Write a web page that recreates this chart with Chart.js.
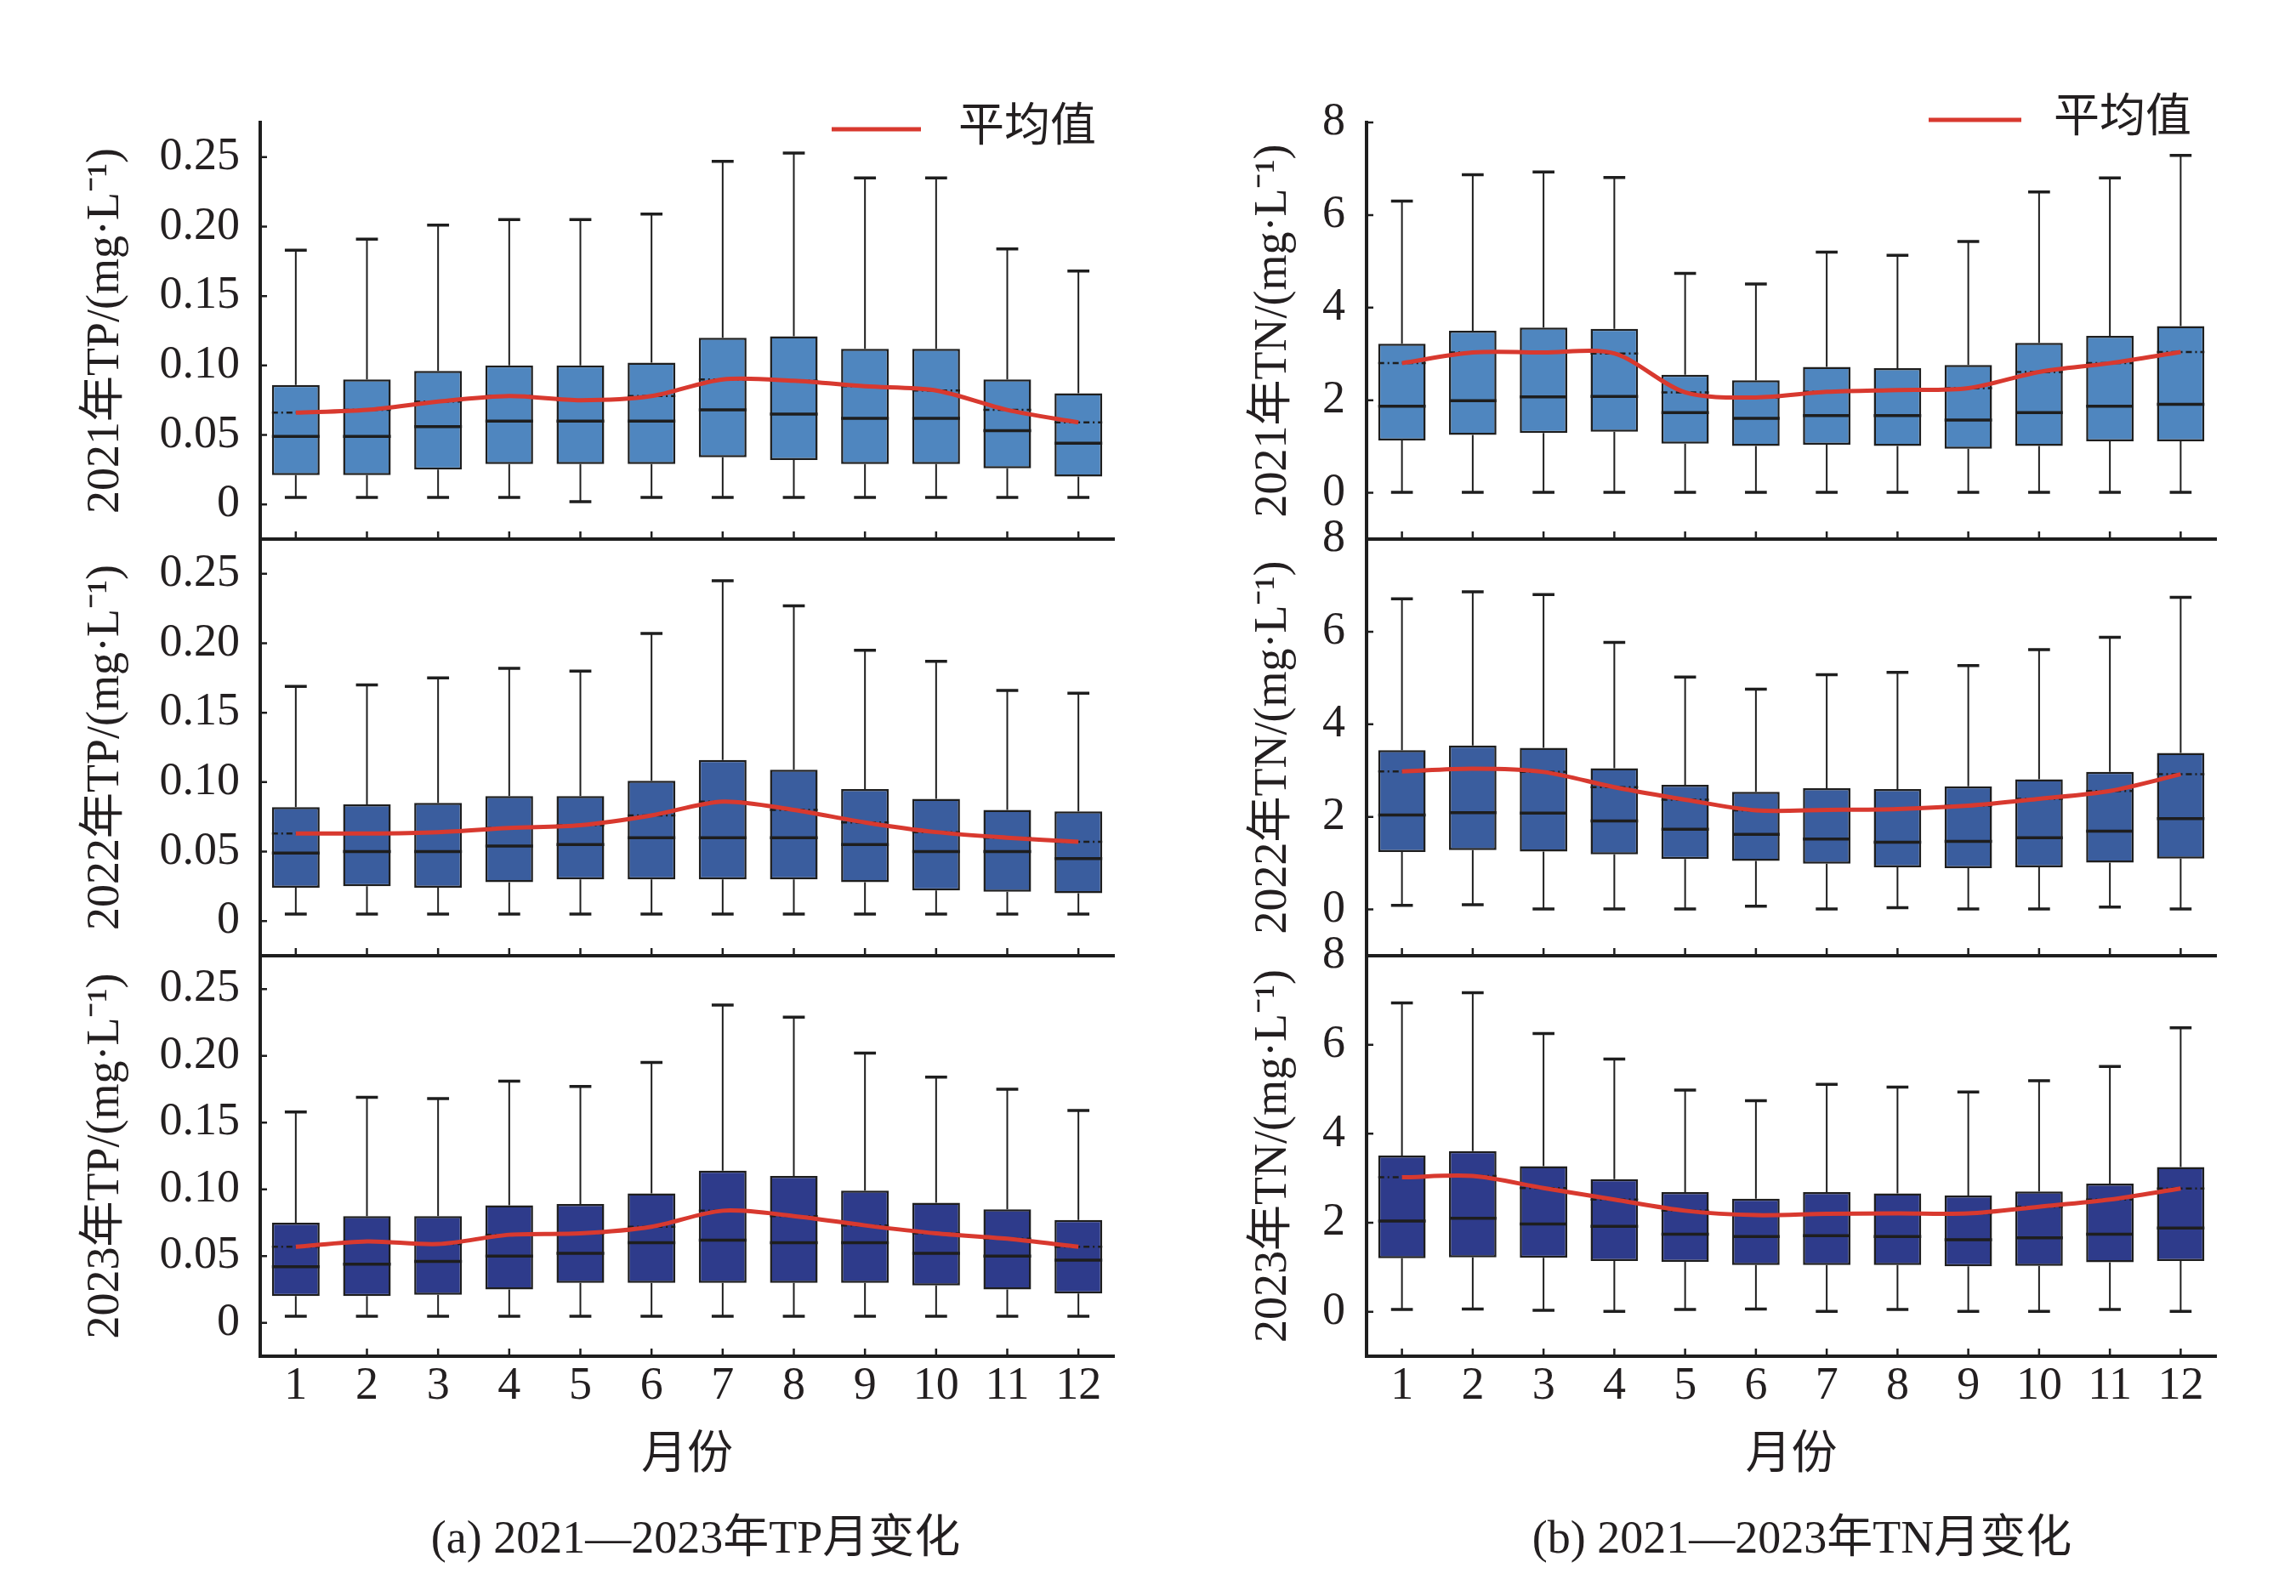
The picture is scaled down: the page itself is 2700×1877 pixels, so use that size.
<!DOCTYPE html>
<html>
<head>
<meta charset="utf-8">
<script src="https://cdn.jsdelivr.net/npm/chart.js@4.4.1/dist/chart.umd.min.js"></script>
<style>
html, body { margin: 0; padding: 0; background: #fff; }
body { width: 2700px; height: 1877px; position: relative; overflow: hidden; }
canvas { position: absolute; }
.cap { position: absolute; font: 54px "Liberation Serif", "Noto Sans CJK SC", serif; color: #231f20;
       white-space: nowrap; transform: translate(-50%, -50%); }
</style>
</head>
<body>
<canvas id="tp2021"></canvas>
<canvas id="tp2022"></canvas>
<canvas id="tp2023"></canvas>
<canvas id="tn2021"></canvas>
<canvas id="tn2022"></canvas>
<canvas id="tn2023"></canvas>
<div class="cap" style="left:818px;top:1802px">(a) 2021—2023年TP月变化</div>
<div class="cap" style="left:2119px;top:1802px">(b) 2021—2023年TN月变化</div>
<script>
// months and axis ticks
const months = ['1', '2', '3', '4', '5', '6', '7', '8', '9', '10', '11', '12'];
const tpTicks = [0, 0.05, 0.10, 0.15, 0.20, 0.25];
const tpTickLabels = ['0', '0.05', '0.10', '0.15', '0.20', '0.25'];
const tnTicks = [0, 2, 4, 6, 8];
const tnTickLabels = ['0', '2', '4', '6', '8'];

// TP 2021
const tp2021Min = [0.005, 0.005, 0.005, 0.005, 0.002, 0.005, 0.005, 0.005, 0.005, 0.005, 0.005, 0.005];
const tp2021Q1 = [0.021, 0.021, 0.025, 0.029, 0.029, 0.029, 0.034, 0.032, 0.029, 0.029, 0.026, 0.020];
const tp2021Med = [0.049, 0.049, 0.056, 0.060, 0.060, 0.060, 0.068, 0.065, 0.062, 0.062, 0.053, 0.044];
const tp2021Q3 = [0.086, 0.090, 0.096, 0.100, 0.100, 0.102, 0.120, 0.121, 0.112, 0.112, 0.090, 0.080];
const tp2021Max = [0.183, 0.191, 0.201, 0.205, 0.205, 0.209, 0.247, 0.253, 0.235, 0.235, 0.184, 0.168];
const tp2021Mean = [0.066, 0.068, 0.074, 0.078, 0.075, 0.078, 0.090, 0.089, 0.085, 0.082, 0.068, 0.059];

// TP 2022
const tp2022Min = [0.005, 0.005, 0.005, 0.005, 0.005, 0.005, 0.005, 0.005, 0.005, 0.005, 0.005, 0.005];
const tp2022Q1 = [0.024, 0.025, 0.024, 0.028, 0.030, 0.030, 0.030, 0.030, 0.028, 0.022, 0.021, 0.020];
const tp2022Med = [0.049, 0.050, 0.050, 0.054, 0.055, 0.060, 0.060, 0.060, 0.055, 0.050, 0.050, 0.045];
const tp2022Q3 = [0.082, 0.084, 0.085, 0.090, 0.090, 0.101, 0.116, 0.109, 0.095, 0.088, 0.080, 0.079];
const tp2022Max = [0.169, 0.170, 0.175, 0.182, 0.180, 0.207, 0.245, 0.227, 0.195, 0.187, 0.166, 0.164];
const tp2022Mean = [0.063, 0.063, 0.064, 0.067, 0.069, 0.076, 0.086, 0.080, 0.071, 0.064, 0.060, 0.057];

// TP 2023
const tp2023Min = [0.005, 0.005, 0.005, 0.005, 0.005, 0.005, 0.005, 0.005, 0.005, 0.005, 0.005, 0.005];
const tp2023Q1 = [0.020, 0.020, 0.021, 0.025, 0.030, 0.030, 0.030, 0.030, 0.030, 0.028, 0.025, 0.022];
const tp2023Med = [0.042, 0.044, 0.046, 0.050, 0.052, 0.060, 0.062, 0.060, 0.060, 0.052, 0.050, 0.047];
const tp2023Q3 = [0.075, 0.080, 0.080, 0.088, 0.089, 0.097, 0.114, 0.110, 0.099, 0.090, 0.085, 0.077];
const tp2023Max = [0.158, 0.169, 0.168, 0.181, 0.177, 0.195, 0.238, 0.229, 0.202, 0.184, 0.175, 0.159];
const tp2023Mean = [0.057, 0.061, 0.059, 0.066, 0.067, 0.072, 0.084, 0.080, 0.073, 0.067, 0.063, 0.057];

// TN 2021
const tn2021Min = [0.01, 0.01, 0.01, 0.01, 0.01, 0.01, 0.01, 0.01, 0.01, 0.01, 0.01, 0.01];
const tn2021Q1 = [1.13, 1.25, 1.29, 1.32, 1.06, 1.01, 1.04, 1.01, 0.95, 1.01, 1.11, 1.11];
const tn2021Med = [1.87, 1.99, 2.07, 2.08, 1.73, 1.61, 1.67, 1.67, 1.57, 1.73, 1.87, 1.91];
const tn2021Q3 = [3.22, 3.50, 3.57, 3.54, 2.55, 2.43, 2.72, 2.69, 2.76, 3.24, 3.39, 3.60];
const tn2021Max = [6.30, 6.87, 6.93, 6.81, 4.74, 4.51, 5.20, 5.13, 5.43, 6.50, 6.80, 7.29];
const tn2021Mean = [2.80, 3.03, 3.03, 3.01, 2.17, 2.06, 2.18, 2.22, 2.26, 2.61, 2.80, 3.04];

// TN 2022
const tn2022Min = [0.09, 0.10, 0.01, 0.01, 0.01, 0.07, 0.01, 0.04, 0.01, 0.01, 0.05, 0.01];
const tn2022Q1 = [1.24, 1.28, 1.25, 1.19, 1.09, 1.05, 0.99, 0.91, 0.89, 0.91, 1.01, 1.10];
const tn2022Med = [2.04, 2.09, 2.08, 1.91, 1.73, 1.62, 1.52, 1.45, 1.47, 1.55, 1.69, 1.96];
const tn2022Q3 = [3.44, 3.54, 3.49, 3.05, 2.69, 2.54, 2.62, 2.60, 2.66, 2.81, 2.97, 3.38];
const tn2022Max = [6.71, 6.86, 6.80, 5.77, 5.02, 4.76, 5.07, 5.12, 5.27, 5.61, 5.88, 6.74];
const tn2022Mean = [2.98, 3.04, 2.97, 2.64, 2.37, 2.14, 2.15, 2.17, 2.24, 2.39, 2.56, 2.92];

// TN 2023
const tn2023Min = [0.05, 0.06, 0.03, 0.01, 0.05, 0.06, 0.01, 0.05, 0.01, 0.01, 0.05, 0.01];
const tn2023Q1 = [1.20, 1.22, 1.21, 1.14, 1.12, 1.05, 1.05, 1.05, 1.02, 1.03, 1.11, 1.14];
const tn2023Med = [2.04, 2.10, 1.97, 1.92, 1.74, 1.69, 1.71, 1.69, 1.62, 1.66, 1.74, 1.88];
const tn2023Q3 = [3.51, 3.61, 3.27, 2.98, 2.69, 2.54, 2.69, 2.66, 2.61, 2.70, 2.88, 3.25];
const tn2023Max = [6.94, 7.17, 6.25, 5.68, 4.98, 4.74, 5.11, 5.05, 4.94, 5.19, 5.51, 6.38];
const tn2023Mean = [3.02, 3.05, 2.78, 2.52, 2.27, 2.17, 2.20, 2.21, 2.21, 2.36, 2.52, 2.77];

const INK = '#1e1e1e';
const FONT = '"Liberation Serif", "Noto Sans CJK SC", serif';
Chart.defaults.font.family = FONT;
Chart.defaults.font.size = 54;
Chart.defaults.color = '#231f20';

// whiskers, median and dashed mean line over each box
const boxWhiskers = {
  id: 'boxWhiskers',
  afterDatasetDraw(chart, args) {
    const ds = chart.data.datasets[args.index];
    if (!ds.medians) return;
    const y = chart.scales.y, ctx = chart.ctx;
    ctx.save();
    ctx.strokeStyle = INK;
    args.meta.data.forEach((bar, i) => {
      const x = bar.x, half = bar.width / 2, cap = bar.width * 0.23;
      const yMin = y.getPixelForValue(ds.mins[i]), yMax = y.getPixelForValue(ds.maxs[i]);
      const yQ1 = y.getPixelForValue(ds.data[i][0]), yQ3 = y.getPixelForValue(ds.data[i][1]);
      ctx.lineWidth = 2;
      ctx.beginPath();
      ctx.moveTo(x, yQ3); ctx.lineTo(x, yMax);
      ctx.moveTo(x, yQ1); ctx.lineTo(x, yMin);
      ctx.stroke();
      ctx.lineWidth = 3.5;
      ctx.beginPath();
      ctx.moveTo(x - cap, yMax); ctx.lineTo(x + cap, yMax);
      ctx.moveTo(x - cap, yMin); ctx.lineTo(x + cap, yMin);
      const yMed = y.getPixelForValue(ds.medians[i]);
      ctx.moveTo(x - half, yMed); ctx.lineTo(x + half, yMed);
      ctx.stroke();
      ctx.lineWidth = 2.5;
      ctx.setLineDash([7, 4, 2, 4]);
      const yMean = y.getPixelForValue(ds.means[i]);
      ctx.beginPath();
      ctx.moveTo(x - half, yMean); ctx.lineTo(x + half, yMean);
      ctx.stroke();
      ctx.setLineDash([]);
    });
    ctx.restore();
  }
};

// short tick marks pointing into the plot
const inwardTicks = {
  id: 'inwardTicks',
  afterDraw(chart) {
    const {ctx, chartArea: a, scales: {x, y}} = chart;
    ctx.save();
    ctx.strokeStyle = INK;
    ctx.lineWidth = 2.5;
    ctx.beginPath();
    x.ticks.forEach((t, i) => {
      const px = x.getPixelForTick(i);
      ctx.moveTo(px, a.bottom); ctx.lineTo(px, a.bottom - 9);
    });
    y.ticks.forEach(t => {
      const py = y.getPixelForValue(t.value);
      ctx.moveTo(a.left, py); ctx.lineTo(a.left + 8, py);
    });
    ctx.stroke();
    ctx.restore();
  }
};

// legend line for the mean series
const meanLegend = {
  id: 'meanLegend',
  afterDraw(chart, args, opts) {
    if (!opts.show) return;
    const ds = chart.data.datasets.find(d => d.type === 'line');
    const {ctx, chartArea: a} = chart;
    const yy = a.top + opts.dy;
    ctx.save();
    ctx.strokeStyle = ds.borderColor;
    ctx.lineWidth = ds.borderWidth;
    ctx.beginPath();
    ctx.moveTo(a.right - opts.lineFrom, yy); ctx.lineTo(a.right - opts.lineTo, yy);
    ctx.stroke();
    ctx.fillStyle = '#231f20';
    ctx.font = '54px ' + FONT;
    ctx.textBaseline = 'middle';
    ctx.fillText(ds.label, a.right - opts.textAt, yy);
    ctx.restore();
  }
};

const columns = {
  tp: {left: 0, w: 1340, yWidth: 306, padRight: 30, titlePad: 92, tickPad: 16,
       min: -0.025, max: 0.275, ticks: tpTicks, labels: tpTickLabels, name: 'TP',
       legend: {lineFrom: 332, lineTo: 227, textAt: 183, dy: 8}},
  tn: {left: 1360, w: 1290, yWidth: 247, padRight: 44, titlePad: 105, tickPad: 17,
       min: -1, max: 8, ticks: tnTicks, labels: tnTickLabels, name: 'TN',
       legend: {lineFrom: 338, lineTo: 229, textAt: 191, dy: -3}}
};
const rows = [
  {top: 60, padTop: 84, chartBottom: 634, xH: 2, padBottom: 56, color: '#4f86bf', year: '2021'},
  {top: 574, padTop: 60, chartBottom: 1124, xH: 2, padBottom: 56, color: '#3a5d9e', year: '2022'},
  {top: 1064, padTop: 60, chartBottom: 1595, xH: 160, padBottom: 0, color: '#2e3b8b', year: '2023'}
];

function panel(id, col, row, rowIdx, mins, q1, med, q3, maxs, means) {
  const el = document.getElementById(id);
  const h = row.chartBottom - row.top + row.xH + row.padBottom;
  el.width = col.w;
  el.height = h;
  el.style.left = col.left + 'px';
  el.style.top = row.top + 'px';
  const last = rowIdx === 2;
  new Chart(el, {
    type: 'bar',
    data: {
      labels: months,
      datasets: [{
        type: 'bar',
        label: row.year,
        data: q1.map((v, i) => [v, q3[i]]),
        mins: mins, maxs: maxs, medians: med, means: means,
        backgroundColor: row.color,
        borderColor: INK,
        borderWidth: 2.5,
        borderSkipped: false,
        barPercentage: 0.67,
        categoryPercentage: 1,
        order: 2
      }, {
        type: 'line',
        label: '平均值',
        data: means,
        borderColor: '#d8392f',
        borderWidth: 5,
        pointRadius: 0,
        tension: 0.3,
        order: 1
      }]
    },
    options: {
      responsive: false,
      animation: false,
      events: [],
      layout: {padding: {left: 0, right: col.padRight, top: row.padTop, bottom: row.padBottom}},
      plugins: {
        legend: {display: false},
        tooltip: {enabled: false},
        meanLegend: Object.assign({show: rowIdx === 0}, col.legend)
      },
      scales: {
        x: {
          grid: {display: false},
          border: {display: true, width: 4, color: INK},
          ticks: {display: last, padding: -5, autoSkip: false, maxRotation: 0},
          title: {display: last, text: '月份', padding: {top: 0, bottom: 10}, font: {lineHeight: 1.2}},
          afterFit: s => { s.height = row.xH; }
        },
        y: {
          min: col.min,
          max: col.max,
          grid: {display: false},
          border: {display: true, width: 4, color: INK},
          afterBuildTicks: s => { s.ticks = col.ticks.map(v => ({value: v})); },
          ticks: {padding: col.tickPad, callback: v => col.labels[col.ticks.indexOf(v)]},
          title: {display: true, text: row.year + '年' + col.name + '/(mg·L⁻¹)',
                  padding: {top: col.titlePad, bottom: 0}, font: {lineHeight: 1.2}},
          afterFit: s => { s.width = col.yWidth; }
        }
      }
    },
    plugins: [boxWhiskers, inwardTicks, meanLegend]
  });
}

panel('tp2021', columns.tp, rows[0], 0, tp2021Min, tp2021Q1, tp2021Med, tp2021Q3, tp2021Max, tp2021Mean);
panel('tp2022', columns.tp, rows[1], 1, tp2022Min, tp2022Q1, tp2022Med, tp2022Q3, tp2022Max, tp2022Mean);
panel('tp2023', columns.tp, rows[2], 2, tp2023Min, tp2023Q1, tp2023Med, tp2023Q3, tp2023Max, tp2023Mean);
panel('tn2021', columns.tn, rows[0], 0, tn2021Min, tn2021Q1, tn2021Med, tn2021Q3, tn2021Max, tn2021Mean);
panel('tn2022', columns.tn, rows[1], 1, tn2022Min, tn2022Q1, tn2022Med, tn2022Q3, tn2022Max, tn2022Mean);
panel('tn2023', columns.tn, rows[2], 2, tn2023Min, tn2023Q1, tn2023Med, tn2023Q3, tn2023Max, tn2023Mean);
</script>
</body>
</html>
